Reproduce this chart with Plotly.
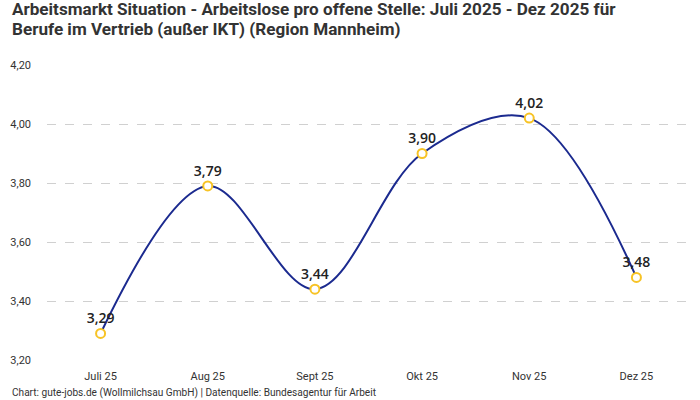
import plotly.graph_objects as go

months = ["Juli 25", "Aug 25", "Sept 25", "Okt 25", "Nov 25", "Dez 25"]
values = [3.29, 3.79, 3.44, 3.90, 4.02, 3.48]
labels = [f"{v:.2f}".replace(".", ",") for v in values]
y_ticks = [3.2, 3.4, 3.6, 3.8, 4.0, 4.2]
y_tick_text = [f"{v:.2f}".replace(".", ",") for v in y_ticks]

title_lines = [
    "Arbeitsmarkt Situation - Arbeitslose pro offene Stelle: Juli 2025 - Dez 2025 für",
    "Berufe im Vertrieb (außer IKT) (Region Mannheim)",
]
footer = "Chart: gute-jobs.de (Wollmilchsau GmbH) | Datenquelle: Bundesagentur für Arbeit"

fig = go.Figure()
fig.add_trace(go.Scatter(
    x=months, y=values,
    mode="lines+markers+text",
    line=dict(color="#1b2a8f", width=2, shape="spline", smoothing=1.0),
    marker=dict(size=9, color="white", line=dict(color="#f7c325", width=2)),
    text=labels, textposition="top center",
    textfont=dict(family="Open Sans", size=14, color="#222222", weight=600),
    cliponaxis=False,
    hoverinfo="skip",
))

fig.update_layout(
    width=700, height=400,
    margin=dict(l=47, r=10, t=65, b=40),
    paper_bgcolor="white", plot_bgcolor="white",
    showlegend=False,
    xaxis=dict(
        range=[-0.5, 5.5],
        showgrid=False, zeroline=False, showline=False,
        tickfont=dict(family="Roboto", size=11, color="#333333"),
        ticks="", ticklabelstandoff=8,
    ),
    yaxis=dict(
        range=[3.2, 4.2], tickvals=y_ticks, ticktext=y_tick_text,
        showgrid=True, gridcolor="#d0d0d0", griddash="dash", gridwidth=1,
        zeroline=False, showline=False,
        tickfont=dict(family="Roboto", size=11, color="#333333"),
        ticklabelstandoff=15,
    ),
    annotations=[
        dict(text="<b>" + title_lines[0] + "</b>", xref="paper", yref="paper",
             x=-0.058, y=1.0 + 56 / 295, xanchor="left", yanchor="middle", showarrow=False,
             font=dict(family="Roboto", size=17.1, color="#333333")),
        dict(text="<b>" + title_lines[1] + "</b>", xref="paper", yref="paper",
             x=-0.058, y=1.0 + 36 / 295, xanchor="left", yanchor="middle", showarrow=False,
             font=dict(family="Roboto", size=17.1, color="#333333")),
        dict(text=footer, xref="paper", yref="paper",
             x=-0.058, y=-33 / 295, xanchor="left", yanchor="middle", showarrow=False,
             font=dict(family="Roboto", size=10.1, color="#333333")),
    ],
)

fig.write_html("out.html", config={"displayModeBar": False},
               post_script="document.body.style.margin='0';")
